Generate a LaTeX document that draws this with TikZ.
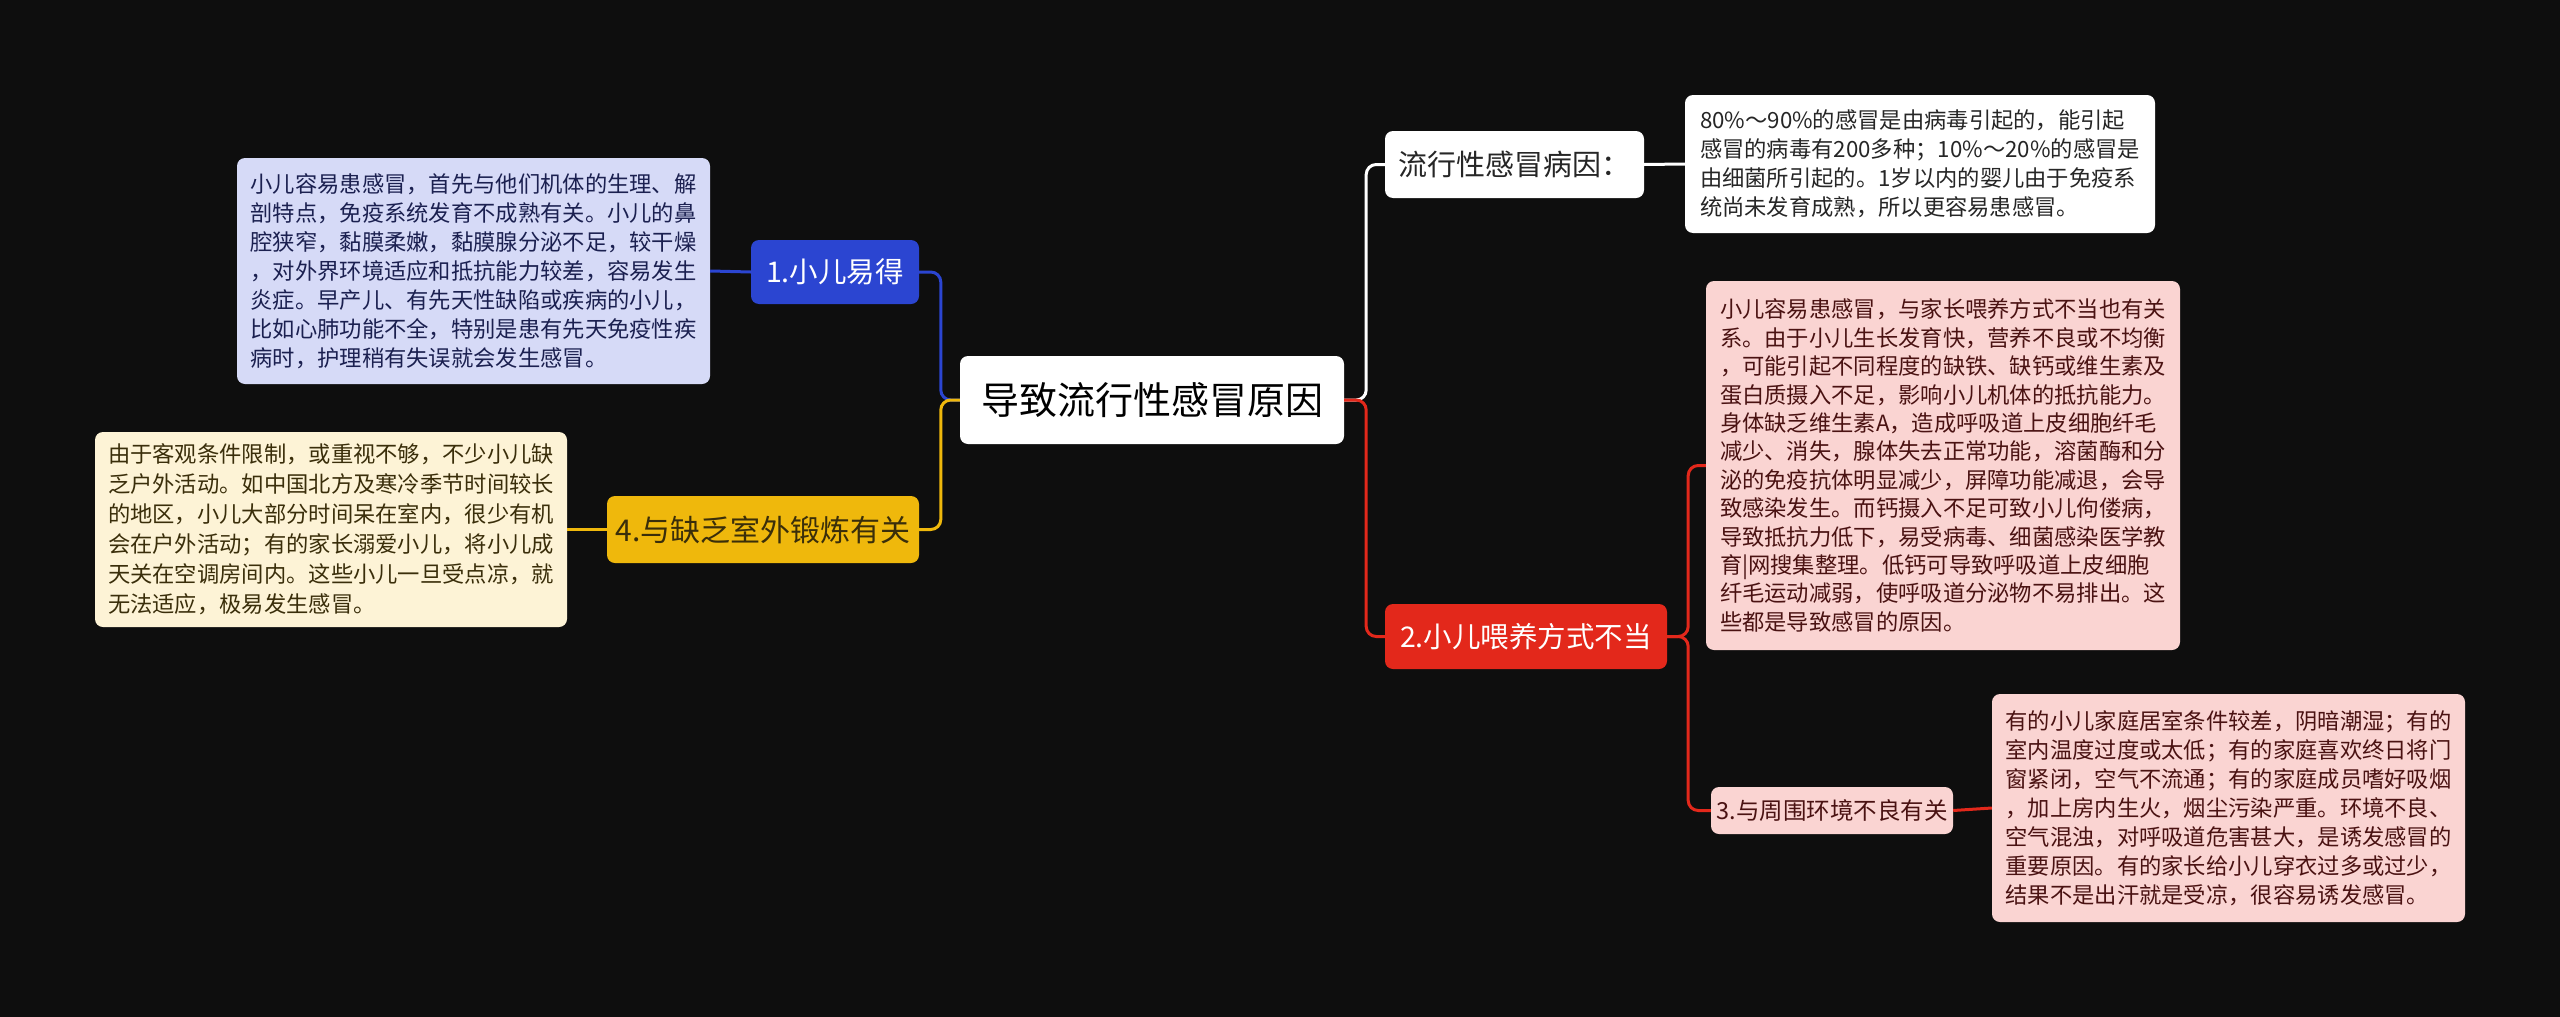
\documentclass[tikz,border=0pt]{standalone}
\usepackage{fontspec}
\setmainfont{Noto Sans CJK SC}
\definecolor{bg}{HTML}{0E0E0E}
\definecolor{cblue}{HTML}{2B45D1}
\definecolor{cyellow}{HTML}{EFB80C}
\definecolor{cred}{HTML}{E3281B}
\definecolor{lblue}{HTML}{D6DAF7}
\definecolor{lyellow}{HTML}{FDF3D6}
\definecolor{lpink}{HTML}{FAD4D2}
\definecolor{tblue}{HTML}{1B2050}
\definecolor{tyellow}{HTML}{3A2E0A}
\definecolor{tpink}{HTML}{4A1212}
\begin{document}
\begin{tikzpicture}[x=1pt,y=-1pt,
  base/.style={rounded corners=8, inner sep=0pt, anchor=center},
  txtbox/.style={base, align=left, font=\fontsize{22.3}{29}\selectfont},
  conn/.style={line width=3pt, rounded corners=10},
]
\fill[bg] (0,0) rectangle (2560,1017);
\useasboundingbox (0,0) rectangle (2560,1017);

% central
\node[base, fill=white, text=black, minimum width=384, minimum height=88,
  font=\fontsize{38}{44}\selectfont] (c) at (1152,400) {导致流行性感冒原因};

% left branch 1
\node[base, fill=cblue, text=white, minimum width=168, minimum height=64,
  font=\fontsize{28.5}{34}\selectfont] (n1) at (835,272) {1.小儿易得};
\node[txtbox, fill=lblue, text=tblue, minimum width=473, minimum height=226] (b1) at (473.5,271)
 {小儿容易患感冒，首先与他们机体的生理、解\\
  剖特点，免疫系统发育不成熟有关。小儿的鼻\\
  腔狭窄，黏膜柔嫩，黏膜腺分泌不足，较干燥\\
  ，对外界环境适应和抵抗能力较差，容易发生\\
  炎症。早产儿、有先天性缺陷或疾病的小儿，\\
  比如心肺功能不全，特别是患有先天免疫性疾\\
  病时，护理稍有失误就会发生感冒。};

% left branch 4
\node[base, fill=cyellow, text=tyellow, minimum width=312, minimum height=67,
  font=\fontsize{30}{36}\selectfont] (n4) at (763,529.5) {4.与缺乏室外锻炼有关};
\node[txtbox, fill=lyellow, text=tyellow, minimum width=472, minimum height=195,
  font=\fontsize{22.3}{30}\selectfont] (b4) at (331,529.5)
 {由于客观条件限制，或重视不够，不少小儿缺\\
  乏户外活动。如中国北方及寒冷季节时间较长\\
  的地区，小儿大部分时间呆在室内，很少有机\\
  会在户外活动；有的家长溺爱小儿，将小儿成\\
  天关在空调房间内。这些小儿一旦受点凉，就\\
  无法适应，极易发生感冒。};

% right branch top
\node[base, fill=white, text=black!85, minimum width=259, minimum height=67,
  font=\fontsize{29}{34}\selectfont] (p1) at (1514.5,164.5) {流行性感冒病因：};
\node[txtbox, fill=white, text=black!85, minimum width=470, minimum height=138] (t1) at (1920,164)
 {80\%～90\%的感冒是由病毒引起的，能引起\\
  感冒的病毒有200多种；10\%～20\%的感冒是\\
  由细菌所引起的。1岁以内的婴儿由于免疫系\\
  统尚未发育成熟，所以更容易患感冒。};

% right branch 2
\node[base, fill=cred, text=white, minimum width=282, minimum height=65,
  font=\fontsize{28.5}{34}\selectfont] (n2) at (1526,636.5) {2.小儿喂养方式不当};
\node[txtbox, fill=lpink, text=tpink, minimum width=474, minimum height=369,
  font=\fontsize{22.3}{28.4}\selectfont] (b2) at (1943,465.5)
 {小儿容易患感冒，与家长喂养方式不当也有关\\
  系。由于小儿生长发育快，营养不良或不均衡\\
  ，可能引起不同程度的缺铁、缺钙或维生素及\\
  蛋白质摄入不足，影响小儿机体的抵抗能力。\\
  身体缺乏维生素A，造成呼吸道上皮细胞纤毛\\
  减少、消失，腺体失去正常功能，溶菌酶和分\\
  泌的免疫抗体明显减少，屏障功能减退，会导\\
  致感染发生。而钙摄入不足可致小儿佝偻病，\\
  导致抵抗力低下，易受病毒、细菌感染医学教\\
  育|网搜集整理。低钙可导致呼吸道上皮细胞\\
  纤毛运动减弱，使呼吸道分泌物不易排出。这\\
  些都是导致感冒的原因。};
\node[base, fill=lpink, text=tpink, minimum width=242, minimum height=47,
  font=\fontsize{23.5}{29}\selectfont] (n3) at (1832,810.5) {3.与周围环境不良有关};
\node[txtbox, fill=lpink, text=tpink, minimum width=473, minimum height=228] (b3) at (2228.5,808)
 {有的小儿家庭居室条件较差，阴暗潮湿；有的\\
  室内温度过度或太低；有的家庭喜欢终日将门\\
  窗紧闭，空气不流通；有的家庭成员嗜好吸烟\\
  ，加上房内生火，烟尘污染严重。环境不良、\\
  空气混浊，对呼吸道危害甚大，是诱发感冒的\\
  重要原因。有的家长给小儿穿衣过多或过少，\\
  结果不是出汗就是受凉，很容易诱发感冒。};

% connectors
\draw[conn, cblue] (c.west) -- ++(-19,0) |- (n1.east);
\draw[conn, cyellow] (c.west) -- ++(-19,0) |- (n4.east);
\draw[conn, white] (c.east) -- ++(22,0) |- (p1.west);
\draw[conn, cred] (c.east) -- ++(22,0) |- (n2.west);
\draw[conn, cblue] (n1.west) -- (b1.east);
\draw[conn, cyellow] (n4.west) -- (b4.east);
\draw[conn, white] (p1.east) -- (t1.west);
\draw[conn, cred] (n2.east) -- ++(21,0) |- (b2.west);
\draw[conn, cred] (n2.east) -- ++(21,0) |- (n3.west);
\draw[conn, cred] (n3.east) -- (b3.west);
\end{tikzpicture}
\end{document}
